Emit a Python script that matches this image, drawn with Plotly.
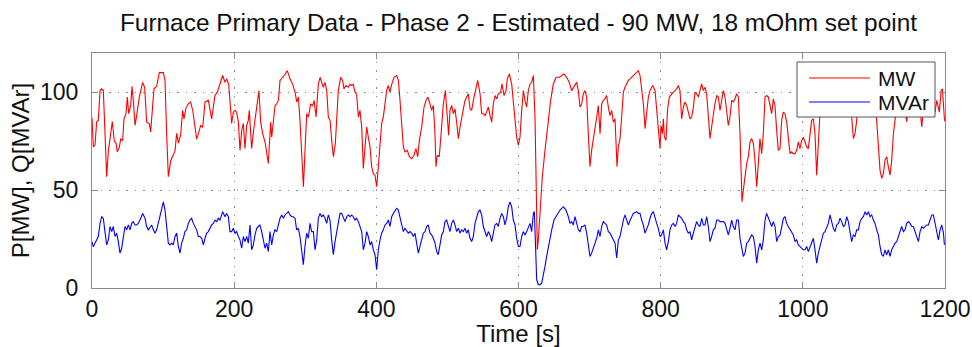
import plotly.graph_objects as go

title_text = "Furnace Primary Data - Phase 2 - Estimated - 90 MW, 18 mOhm set point"
x_ticks = [0, 200, 400, 600, 800, 1000, 1200]
y_ticks = [0, 50, 100]
series_names = ["MW", "MVAr"]
series_colors = ["#ff0000", "#0000ff"]

# Active power P [MW] : time [s] and values
t_mw = [0, 1.9, 4.2, 6.6, 8.9, 11.3, 13.6, 15.9, 18.3, 20.6, 23, 25.3, 28.6, 31.4, 33.8, 35.6, 38.5, 40.3, 43.1, 45,
        47.8, 49.7, 51.6, 54.4, 56.3, 58.1, 60.5, 62.8, 66.6, 71.3, 74.1, 76.9, 80.7, 82.5, 85.3, 87.2, 91, 94.7, 100.4, 102.7,
        105, 107.4, 110.7, 113.5, 116.8, 119.1, 121.5, 124.7, 127.5, 129.4, 132.2, 135.5, 138.8, 142, 144.9, 147.2, 149.6, 152.9, 155.7, 159,
        163.7, 168.3, 170.7, 173, 176.3, 180.1, 183.8, 187.1, 189.5, 192.3, 194.1, 196.5, 198.8, 201.2, 203.5, 205.9, 208.2, 210.6, 212.9, 215.2,
        217.6, 219.9, 221.3, 223.2, 224.6, 227, 229.3, 232.6, 234.9, 237.3, 240.1, 243.4, 245.7, 248.1, 249.5, 251.4, 252.8, 255.2, 257.5, 259.8,
        262.2, 264.5, 268.3, 271.5, 274.8, 278.5, 282.3, 285.6, 288, 290.3, 292.6, 295, 297.4, 299.7, 302, 304.4, 307.7, 310.5, 312.4, 315.2,
        318.4, 320.8, 323.2, 325.4, 327.9, 330.2, 332.5, 334.9, 337.2, 339.6, 342.3, 344.2, 346.5, 349.8, 352.6, 354.5, 357.3, 360.6, 363, 365.3,
        367.6, 370, 372.3, 374.7, 377, 379.4, 381.7, 384.1, 386.4, 388.7, 391.1, 393.4, 395.8, 398.1, 400.5, 402.8, 405.2, 407.5, 409.8, 412.2,
        414.5, 416.9, 419.2, 421.6, 424.9, 428.6, 431, 433.3, 435.6, 438, 440.3, 443.6, 446.5, 449.7, 453, 455.8, 458.2, 460.5, 463.8, 467.1,
        469.9, 472.7, 475.5, 477.8, 480.2, 482.5, 483.9, 485.8, 488.6, 491, 494.3, 497.1, 499.9, 501.7, 503.6, 506, 508.3, 510.7, 513, 515.4,
        517.7, 520, 522.4, 524.7, 527.1, 529.4, 531.8, 534.1, 536.5, 539.8, 542.6, 545.9, 548.2, 550.5, 552.9, 555.2, 557.6, 559.9, 562.3, 564.6,
        567, 569.3, 571.6, 574.9, 576.8, 579.6, 582.4, 584.3, 587.1, 590.4, 592.7, 595.1, 597.4, 599.8, 602.1, 604.5, 606.8, 609.1, 611.5, 613.8,
        616.2, 618.5, 620.9, 623.2, 624.6, 626.5, 627.9, 630.2, 633.5, 637.3, 641, 645.2, 649, 652.8, 657.4, 660.7, 664, 667.8, 671.5, 674.8,
        678.1, 681.8, 684.2, 686.5, 688.9, 691.2, 693.6, 695.9, 698.2, 700.6, 702.9, 705.3, 707.6, 710, 712.3, 714.7, 717, 719.3, 721.7, 724,
        726.4, 728.7, 731.1, 733.4, 735.8, 737.2, 738.6, 740.4, 742.8, 745.1, 747.5, 749.8, 752.2, 754.5, 756.9, 761.5, 766.2, 768.6, 771, 773.3,
        775.7, 778, 780.3, 782.7, 785, 788.8, 792.1, 794.4, 796.8, 799.1, 800.5, 802.4, 803.8, 805.2, 807.5, 809.8, 812.2, 815.5, 817.8, 820.2,
        822.5, 824.9, 827.2, 829.5, 831.9, 834.2, 836.6, 838.9, 841.3, 843.6, 846, 848.3, 850.6, 853, 855.3, 857.7, 860, 862.4, 864.7, 867.1,
        869.4, 871.7, 874.1, 876.4, 878.8, 881.1, 883.5, 885.8, 888.2, 890.5, 892.8, 895.2, 897.5, 899.9, 902.2, 904.6, 906.9, 909.3, 911.6, 913,
        914.4, 916.3, 918.6, 921, 923.3, 925.7, 928, 930.4, 932.7, 935.1, 937.4, 939.7, 942.1, 944.4, 946.8, 949.1, 951.5, 953.8, 956.2, 958.5,
        960.8, 963.2, 965.5, 967.9, 970.2, 972.6, 974.9, 977.3, 979.6, 982, 984.3, 986.6, 989, 991.3, 993.7, 996, 998.4, 1000.7, 1003, 1005.4,
        1007.7, 1010.1, 1012.4, 1014.8, 1017.1, 1019.5, 1021.8, 1024.2, 1028, 1032, 1036, 1040, 1044, 1048, 1052, 1056, 1060, 1064, 1066, 1068.7,
        1071.1, 1073.4, 1075.8, 1078.1, 1082, 1086, 1090, 1094, 1098, 1101, 1103.9, 1106.3, 1108.6, 1111, 1113.3, 1115.6, 1118, 1120.3, 1122.7, 1125,
        1127.4, 1129.7, 1132.1, 1136, 1140, 1143, 1146.1, 1149, 1153, 1157, 1161, 1164, 1167.3, 1170, 1174, 1178, 1182, 1186, 1188.4, 1192.1,
        1194.5, 1196.3, 1197.7, 1199.2, 1200]
mw = [87, 72, 73, 85, 85.6, 100.8, 101.7, 101, 79, 56.8, 70, 75.4, 85, 75, 74, 69.5, 72, 76, 75.4, 86.4,
      89, 97.5, 89, 93, 103, 95.8, 83, 88, 97.5, 105, 102.5, 84.7, 84, 79.7, 94, 101.7, 103, 110, 110, 106,
      79, 56.8, 65, 67, 70, 79, 74, 78, 90.7, 86.4, 92, 94, 95, 90, 80.5, 76, 78.8, 83, 82, 95,
      95.8, 86.4, 92.4, 98.3, 100, 104, 108.5, 105, 106.8, 104, 93, 84, 89.8, 90.7, 89.8, 84.7, 70.3, 80.5, 84, 71.2,
      83, 85.6, 90.7, 78.8, 71.2, 79.7, 85.6, 93, 100.8, 84.7, 78.8, 74.6, 68.6, 63.6, 73, 84.7, 77, 87.3, 93.2, 94,
      95.8, 106, 107.6, 109, 111, 106.8, 104, 100, 95, 97.5, 85.6, 70.3, 51.7, 70.3, 89, 87.3, 94, 93, 95.8, 87.3,
      104, 107.6, 105, 102.5, 105, 100.8, 87.3, 85.6, 75.4, 67, 73.7, 87.3, 100.8, 107.6, 106, 101.7, 103.4, 102.5, 104, 103.4,
      104, 100, 99, 87.3, 90.7, 82.2, 61, 72, 82.2, 77, 72, 61.9, 58.5, 57.6, 51.7, 61.9, 72, 84, 87.3, 93.2,
      100.8, 103.4, 100, 104, 107.6, 108.5, 106, 95.8, 84, 72, 69.5, 70.3, 67, 66, 67.8, 71.2, 67, 75.4, 82.2, 92.4,
      95.8, 97.5, 94, 90.7, 93.2, 78.8, 61.9, 67.8, 67, 78.8, 94, 100.8, 87.3, 78, 90.7, 93.2, 89, 91.5, 84.7, 76.3,
      82.2, 86.4, 89.8, 95.8, 97.5, 99.2, 91.5, 90.7, 95.8, 100.8, 106, 99.2, 89, 89, 88, 89.8, 92.4, 88, 84.7, 94,
      98.3, 96.6, 99.2, 100, 104.2, 98.3, 100.8, 106.8, 109.3, 104.2, 95.8, 87.3, 77, 72.9, 77, 90.7, 100.8, 95.8, 92.4, 100.8,
      104.2, 105, 108.5, 87.3, 61.9, 19.5, 24.6, 39.8, 56.8, 70.3, 84, 95.8, 104.2, 107.6, 107.6, 108.5, 109.3, 107.6, 105, 100.8,
      102.5, 105, 100.8, 92.4, 94, 99.2, 100.8, 97.5, 78.8, 61.9, 70.3, 77, 82.2, 87.3, 93.2, 78.8, 94, 95.8, 96.6, 98.3,
      92.4, 88, 90.7, 84.7, 86.4, 73.7, 61.9, 72, 76.3, 87.3, 100, 102.5, 104.2, 106, 106.8, 108.5, 110, 111, 108.5, 102.5,
      94, 81.4, 90.7, 97.5, 100.8, 103.4, 100.8, 90.7, 77, 71.2, 83, 78.8, 86.4, 77, 75.4, 91.5, 97.5, 99.2, 100, 100.8,
      101.7, 103.4, 100.8, 86.4, 92.4, 95, 93.2, 89.8, 86.4, 87.3, 92.4, 100, 99.2, 97.5, 100.8, 104.2, 100.8, 102.5, 99.2, 87.3,
      76.3, 82.2, 89, 94, 98.3, 97.5, 90.7, 95.8, 100.8, 97.5, 91.5, 83, 87.3, 95.8, 95, 96.6, 99.2, 97.5, 78.8, 61.9,
      44, 50, 56.8, 63.6, 67, 74.6, 76.3, 73.7, 65.3, 51.7, 63.6, 76.3, 68.6, 78.8, 97.5, 98.3, 97.5, 94, 89, 96.6,
      93.2, 80.5, 70.3, 71.2, 85.6, 89.8, 89, 84.7, 75.4, 68.6, 69.5, 68.6, 68.6, 70.3, 74.6, 71.2, 75.4, 77, 74.6, 72,
      71.2, 78.8, 85.6, 86.4, 78.8, 57.6, 77, 90, 97, 100, 96, 88, 97, 101, 99, 102, 98, 100, 95, 87.3,
      76.3, 78.8, 85.6, 95, 100, 98, 103, 100, 97, 95, 85.6, 70.3, 60, 56, 58.5, 65.3, 67, 61.9, 57.6, 65.3,
      78.8, 85.6, 95, 99, 97, 92, 85, 95, 100, 98, 101, 95, 82.2, 94, 99, 97, 100, 89.8, 95.8, 89.8,
      100.8, 101.7, 92.4, 86.4, 85]

# Reactive power Q [MVAr] : time [s] and values
t_mvar = [0, 1.9, 4.2, 6.6, 8.9, 11.3, 13.6, 15.9, 18.3, 20.6, 23, 25.3, 27.7, 30, 32.4, 34.7, 37, 39.4, 41.7, 44.1,
          46.4, 48.8, 51.1, 53.5, 55.8, 58.1, 60.5, 62.8, 65.2, 67.5, 71.3, 74.6, 76.9, 79.2, 81.6, 83.9, 86.3, 88.6, 91, 93.3,
          95.7, 100.4, 102.7, 105, 107.4, 109.7, 112.1, 114.4, 116.8, 119.1, 121.5, 123.8, 126.1, 128.5, 130.8, 133.2, 135.5, 137.9, 140.2, 142.6,
          144.9, 147.2, 149.6, 151.9, 154.3, 156.6, 159, 161.3, 163.7, 166, 168.3, 170.7, 173, 175.4, 177.7, 180.1, 183.8, 187.1, 189.4, 191.8,
          194.1, 196.5, 198.8, 201.2, 203.5, 205.9, 208.2, 210.5, 212.9, 215.2, 217.6, 219.9, 222.3, 224.6, 227, 229.3, 231.7, 234, 236.3, 238.7,
          241, 243.4, 245.7, 248.1, 250.4, 252.8, 255.1, 257.4, 259.8, 262.1, 264.5, 266.8, 269.2, 271.5, 273.9, 276.2, 278.5, 280.9, 283.2, 285.6,
          287.9, 290.3, 292.6, 295, 297.3, 299.6, 302, 304.3, 306.7, 309, 311.4, 313.7, 316.1, 318.4, 320.8, 323.1, 325.4, 327.8, 330.1, 332.5,
          334.8, 337.2, 339.5, 341.9, 344.2, 346.5, 348.9, 351.2, 353.6, 355.9, 358.3, 360.6, 363, 365.3, 367.6, 370, 372.3, 374.7, 377, 379.4,
          381.7, 384.1, 386.4, 388.7, 391.1, 393.4, 395.8, 398.1, 400.5, 402.8, 405.2, 407.5, 409.8, 412.2, 414.5, 416.9, 419.2, 421.6, 423.9, 426.3,
          428.6, 430.9, 433.3, 435.6, 438, 440.3, 442.7, 445, 447.4, 449.7, 452, 454.4, 456.7, 459.1, 461.4, 463.8, 466.1, 468.5, 470.8, 473.1,
          475.5, 477.8, 480.2, 482.5, 484.9, 487.2, 489.6, 491.9, 494.3, 496.6, 498.9, 501.3, 503.6, 506, 508.3, 510.7, 513, 515.4, 517.7, 520,
          522.4, 524.7, 527.1, 529.4, 531.8, 534.1, 536.5, 538.8, 541.1, 543.5, 545.8, 548.2, 550.5, 552.9, 555.2, 557.6, 559.9, 562.2, 564.6, 566.9,
          569.3, 571.6, 574, 576.3, 578.7, 581, 583.3, 585.7, 588, 590.4, 592.7, 595.1, 597.4, 599.8, 602.1, 604.5, 606.8, 609.1, 611.5, 613.8,
          616.2, 618.5, 620.9, 622.3, 624.2, 625.6, 627.9, 630.2, 632.6, 634.9, 637.3, 639.6, 642.9, 646.7, 649.9, 653.7, 658.4, 663.1, 666.8, 670.1,
          672.4, 674.8, 677.1, 679.5, 681.8, 684.2, 686.5, 688.9, 691.2, 693.5, 695.9, 698.2, 700.6, 702.9, 705.3, 707.6, 710, 712.3, 714.7, 717,
          719.3, 721.7, 724, 726.4, 728.7, 731.1, 733.4, 735.8, 738.1, 740.5, 742.8, 745.1, 747.5, 749.8, 752.2, 754.5, 756.9, 759.2, 761.5, 763.9,
          766.2, 768.6, 770.9, 773.3, 775.6, 778, 780.3, 782.6, 785, 787.3, 789.7, 792, 794.4, 796.7, 799.1, 801.4, 803.8, 806.1, 808.4, 810.8,
          813.1, 815.5, 817.8, 820.2, 822.5, 824.9, 827.2, 829.5, 831.9, 834.2, 836.6, 838.9, 841.3, 843.6, 846, 848.3, 850.6, 853, 855.3, 857.7,
          860, 862.4, 864.7, 867.1, 869.4, 871.7, 874.1, 876.4, 878.8, 881.1, 883.5, 885.8, 888.2, 890.5, 892.8, 895.2, 897.5, 899.9, 902.2, 904.6,
          906.9, 909.3, 911.6, 914, 916.3, 918.7, 921, 923.3, 925.7, 928, 930.4, 932.7, 935.1, 937.4, 939.8, 942.1, 944.4, 946.8, 949.1, 951.5,
          953.8, 956.2, 958.5, 960.9, 963.2, 965.5, 967.9, 970.2, 972.6, 974.9, 977.3, 979.6, 982, 984.3, 986.6, 989, 991.3, 993.7, 996, 998.4,
          1000.7, 1003, 1005.4, 1007.7, 1010.1, 1012.4, 1014.8, 1017.1, 1019.5, 1021.8, 1024.2, 1026.5, 1028.9, 1031.2, 1033.5, 1035.9, 1038.2, 1040.6, 1042.9, 1045.3,
          1047.6, 1050, 1052.3, 1054.7, 1057, 1059.3, 1061.7, 1064, 1066.4, 1068.7, 1071.1, 1073.4, 1075.8, 1078.1, 1080.5, 1082.8, 1085.2, 1087.5, 1089.8, 1092.2,
          1094.5, 1096.9, 1099.2, 1101.6, 1103.9, 1106.3, 1108.6, 1111, 1113.3, 1115.6, 1118, 1120.3, 1122.7, 1125, 1127.4, 1129.7, 1132.1, 1134.4, 1136.8, 1139.1,
          1141.5, 1143.8, 1146.1, 1148.5, 1150.8, 1153.2, 1155.5, 1157.9, 1160.2, 1162.6, 1164.9, 1167.3, 1169.6, 1172, 1174.3, 1176.7, 1179, 1181.3, 1183.7, 1186,
          1188.4, 1190.7, 1193.1, 1195.4, 1197.8, 1199.2]
mvar = [23.7, 21, 22.9, 24.6, 26.3, 33, 36.4, 35.6, 29.7, 22, 24.6, 31.4, 28.8, 31.4, 26.3, 28, 23.7, 17.8, 20.3, 26.3,
        31.4, 29.7, 32.2, 29.7, 33, 33.9, 32.2, 32.2, 33, 34.7, 38, 35.6, 31.4, 29.7, 31.4, 32.2, 29.7, 28, 29.7, 33,
        38, 44, 39.8, 29.7, 22.9, 22, 22.9, 22, 26.3, 28, 21.2, 17.8, 22.9, 25.4, 28.8, 29.7, 33, 34.7, 35.6, 33,
        31.4, 29.7, 26.3, 26.3, 25.4, 22, 25.4, 28, 28.8, 30.5, 32.2, 33, 34.7, 33.9, 35.6, 34.7, 39, 36.4, 38.1, 36.4,
        28.8, 28.8, 30.5, 28, 28.8, 26.3, 24.6, 20.3, 26.3, 23.7, 26.3, 22.9, 32.2, 19.5, 22, 27.1, 30.5, 31.4, 32.2, 28.8,
        23.7, 20.3, 22.9, 18.6, 28.8, 22, 27.1, 29.7, 28.8, 33, 35.6, 37.3, 35.6, 37.3, 38.1, 39, 37.3, 36.4, 36.4, 35.6,
        29.7, 30.5, 26.3, 17.8, 11.9, 21.2, 28, 25.4, 33, 28.8, 28.8, 19.5, 24.6, 35.6, 38.1, 36.4, 37.3, 35.6, 33, 37.3,
        34.7, 24.6, 17, 23.7, 28, 33, 38.1, 38.1, 35.6, 33.9, 36.4, 37.3, 36.4, 37.3, 36.4, 34.7, 35.6, 33.9, 31.4, 28.8,
        19.5, 22.9, 28.8, 26.3, 22, 23.7, 19.5, 17, 9.3, 19.5, 24.6, 28, 29.7, 32.2, 33, 34.7, 31.4, 36.4, 38.1, 39.8,
        40.7, 39.8, 36.4, 33, 28.8, 30.5, 28.8, 28, 28.8, 28, 26.3, 28, 22.9, 17.8, 21.2, 24.6, 28, 28.8, 31.4, 32.2,
        28, 27.1, 25.4, 22.9, 18.6, 17, 22.9, 27.1, 28.8, 33.9, 34.7, 32.2, 28.8, 33, 34.7, 32.2, 28.8, 30.5, 28, 29.7,
        28.8, 30.5, 28, 29.7, 25.4, 23.7, 26.3, 33, 36.4, 39, 39.8, 37.3, 31.4, 28.8, 26.3, 28.8, 27.1, 23.7, 28, 32.2,
        33, 31.4, 35.6, 38.1, 36.4, 32.2, 35.6, 41.5, 44, 41.5, 34.7, 32.2, 25.4, 21.2, 21.2, 26.3, 28.8, 27.1, 28.8, 31.4,
        33, 28.8, 38.1, 39, 19.5, 4.2, 1.7, 1.7, 2.5, 5.9, 11, 16.1, 22.9, 29.7, 34.7, 37.3, 39.8, 41.5, 39.8, 36.4,
        33, 33.9, 32.2, 36.4, 33, 29.7, 28.8, 31.4, 31.4, 32.2, 28, 22.9, 16.1, 17.8, 20.3, 22.9, 25.4, 29.7, 26.3, 31.4,
        33.9, 33, 32.2, 28.8, 28, 26.3, 24.6, 22.9, 15.3, 24.6, 26.3, 31.4, 34.7, 37.3, 34.7, 32.2, 34.5, 36, 38.1, 38.5,
        39, 38.1, 38.1, 34.7, 32.2, 28, 29.7, 32.2, 35.6, 38, 39, 35.6, 33, 30.5, 26.3, 27.1, 29.7, 22.9, 19.5, 23.7,
        29.7, 32.2, 33, 31.4, 33, 37.3, 36.4, 35.6, 33.9, 33, 29.7, 28, 28.8, 24.6, 28, 31.4, 33.9, 32.2, 31.4, 35.6,
        32.2, 32.2, 36.4, 31.4, 23.7, 26.3, 29.7, 30.5, 34.7, 34.7, 33.9, 33.9, 33.9, 33, 30.5, 27.1, 30.5, 34.7, 31.4, 29.7,
        34.7, 34.7, 25.4, 19.5, 16.1, 17.8, 22.9, 23.7, 25.4, 27.1, 26.3, 21.2, 12.7, 19.5, 22.9, 19.5, 24.6, 34.7, 38.1, 35.6,
        33, 31.4, 33.9, 31.4, 23.7, 26.3, 27, 32.2, 35.6, 36.4, 33, 31.4, 29.7, 28, 27.1, 23.7, 24.6, 22, 21.2, 20.3,
        19.5, 19.5, 21.2, 18.6, 21.2, 22.9, 25.4, 19.5, 12.7, 17.8, 21.2, 23.7, 28, 28.8, 31.4, 33, 37.3, 33, 30.5, 28.8,
        32.2, 33, 35.6, 33.9, 31.4, 32.2, 36.4, 33.9, 28.8, 23.7, 27.1, 26.3, 29.7, 29.7, 33.9, 35.6, 36.4, 39, 37.3, 39,
        36.4, 37.3, 34.7, 33, 29.7, 27.1, 21.2, 17, 16.1, 19.5, 17, 19.5, 16.1, 19.5, 21.2, 22.9, 23.7, 26.3, 28, 31.4,
        28.8, 29.7, 33, 33.9, 33, 31.4, 31.4, 28.8, 26.3, 23.7, 28.8, 31.4, 30.5, 31.4, 32.2, 32.2, 34.7, 37.3, 37.3, 33,
        28, 24.6, 29.7, 32.2, 28, 22]

FONT = "Liberation Sans, Arial, Helvetica, sans-serif"
TXT = "#111111"
FRAME = "#8a8a8a"

# plot area in pixels (for placing the legend box in paper coordinates)
W, H = 972, 347
ML, MR, MT, MB = 92, 27, 53, 59
PW, PH = W - ML - MR, H - MT - MB


def px(x):
    return (x - ML) / PW


def py(y):
    return (H - MB - y) / PH


fig = go.Figure()
for name, color, tx, vy in zip(series_names, series_colors, [t_mw, t_mvar], [mw, mvar]):
    fig.add_trace(go.Scatter(x=tx, y=vy, mode="lines", name=name,
                             line=dict(color=color, width=1.1), showlegend=False))

axis_common = dict(
    showline=True, linecolor=FRAME, linewidth=1, mirror="ticks",
    ticks="inside", ticklen=6, tickcolor=FRAME, tickwidth=1,
    showgrid=True, gridcolor="#8c8c8c", griddash="1.5px,7px", gridwidth=1,
    zeroline=False, automargin=False, tickfont=dict(family=FONT, size=23, color=TXT),
)

fig.update_xaxes(range=[0, 1200], tickvals=x_ticks, ticklabelstandoff=0,
                 title=dict(text="Time [s]", font=dict(family=FONT, size=24, color=TXT), standoff=0),
                 **axis_common)
fig.update_yaxes(range=[0, 120], tickvals=y_ticks, ticklabelstandoff=8,
                 title=dict(text="P[MW], Q[MVAr]", font=dict(family=FONT, size=24, color=TXT), standoff=3),
                 **axis_common)

# legend box drawn like the original (long line samples)
shapes = [dict(type="rect", xref="paper", yref="paper", x0=px(797), x1=px(935), y0=py(117), y1=py(62),
               fillcolor="white", line=dict(color="#555555", width=1), layer="above")]
annotations = []
for i, (name, color) in enumerate(zip(series_names, series_colors)):
    yy = py(78 + 24 * i)
    shapes.append(dict(type="line", xref="paper", yref="paper", x0=px(809), x1=px(870), y0=yy, y1=yy,
                       line=dict(color=color, width=1.1), layer="above"))
    annotations.append(dict(text=name, xref="paper", yref="paper", x=px(876), y=yy, xanchor="left",
                            yanchor="middle", showarrow=False, font=dict(family=FONT, size=21, color=TXT)))

fig.update_layout(
    width=W, height=H,
    margin=dict(l=ML, r=MR, t=MT, b=MB),
    paper_bgcolor="white", plot_bgcolor="white",
    font=dict(family=FONT, color=TXT),
    title=dict(text=title_text, font=dict(family=FONT, size=24.4, color=TXT),
               x=0.5, xref="paper", xanchor="center",
               y=1 - 22 / 347, yref="container", yanchor="middle"),
    shapes=shapes, annotations=annotations,
    showlegend=False,
)

fig.write_html("out.html", config={"displayModeBar": False})
